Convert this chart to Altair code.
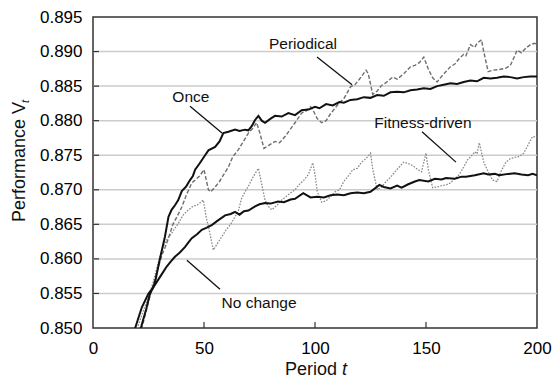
import altair as alt
import pandas as pd

# ---------------- data ----------------
once_t = [16, 19, 22, 25, 27, 28, 30, 32.4, 34, 35.4, 37, 38.4, 40, 42, 43.7, 45, 46, 48, 50.5, 52,
          55, 57, 58.7, 61, 64, 66, 68.5, 70, 71.5, 73, 74.5, 76, 77.5, 80, 82, 85, 88, 91, 94, 97,
          100, 102, 105, 108, 111, 113, 116, 119, 122, 125, 128, 131, 134, 137, 140, 143, 146, 149,
          152, 155, 158, 161, 164, 167, 170, 173, 176, 179, 182, 185, 188, 191, 194, 197, 200]
once_v = [0.8462, 0.8500, 0.8530, 0.8550, 0.8558, 0.8567, 0.8598, 0.8632, 0.8661, 0.8671, 0.8678,
          0.8685, 0.8698, 0.8705, 0.8714, 0.8720, 0.8729, 0.8738, 0.8750, 0.8757, 0.8762, 0.8770,
          0.8782, 0.8784, 0.8787, 0.8785, 0.8787, 0.8786, 0.8792, 0.8801, 0.8807, 0.8800, 0.8797,
          0.8803, 0.8807, 0.8806, 0.8811, 0.8808, 0.8815, 0.8816, 0.8820, 0.8818, 0.8824, 0.8822,
          0.8827, 0.8826, 0.8830, 0.8831, 0.8834, 0.8833, 0.8837, 0.8836, 0.8841, 0.8842, 0.8841,
          0.8844, 0.8845, 0.8847, 0.8846, 0.8850, 0.8852, 0.8854, 0.8853, 0.8856, 0.8858, 0.8857,
          0.8862, 0.8861, 0.8862, 0.8864, 0.8863, 0.8861, 0.8863, 0.8864, 0.8864]

nochange_t = [18, 20, 22, 24, 25.7, 27, 29.4, 31, 33.2, 35, 36.9, 39, 41.4, 43, 44.5, 47, 49, 51,
              53.5, 56, 59.5, 62, 64, 66, 68, 70, 73, 75, 77.5, 80, 83.3, 86, 89, 91, 94.7, 98, 101,
              104, 107, 110, 113, 116, 119, 122, 125, 129, 131, 134, 137, 139, 142, 145, 147, 151,
              154, 157, 159, 163, 166, 168, 172, 176, 178, 181, 183, 187, 190, 193, 196, 198, 200]
nochange_v = [0.8460, 0.8480, 0.8505, 0.8528, 0.8550, 0.8558, 0.8570, 0.8578, 0.8589, 0.8596,
              0.8603, 0.8609, 0.8617, 0.8624, 0.8630, 0.8636, 0.8642, 0.8645, 0.8649, 0.8655,
              0.8663, 0.8665, 0.8668, 0.8664, 0.8669, 0.8670, 0.8676, 0.8679, 0.8681, 0.8680,
              0.8683, 0.8682, 0.8686, 0.8687, 0.8695, 0.8689, 0.8690, 0.8689, 0.8692, 0.8693,
              0.8692, 0.8695, 0.8696, 0.8695, 0.8697, 0.8707, 0.8704, 0.8702, 0.8706, 0.8703,
              0.8708, 0.8712, 0.8714, 0.8712, 0.8716, 0.8715, 0.8717, 0.8716, 0.8719, 0.8719,
              0.8721, 0.8724, 0.8722, 0.8723, 0.8721, 0.8723, 0.8724, 0.8722, 0.8721, 0.8723,
              0.8721]

periodical_t = [16, 19, 22, 24, 26, 28, 29.5, 31, 32.5, 34, 36, 38, 40, 42, 44.5, 46, 48, 50, 52,
                53, 55, 57, 58.5, 61, 63, 65.5, 67, 70, 72, 73.7, 75, 77, 79, 82, 84, 86.5, 89, 91,
                94, 96, 98, 99, 101, 103, 105, 107, 109, 111, 113, 116, 118, 120, 123, 124, 126,
                128, 130, 132, 135, 137, 140, 143, 145, 147, 149, 151, 153, 155, 157, 159, 161,
                163, 165, 167, 168, 170, 172, 173, 175, 176, 178, 180, 183, 186, 188, 190, 191,
                193, 195, 197, 199, 200]
periodical_v = [0.8440, 0.8470, 0.8500, 0.8525, 0.8550, 0.8572, 0.8589, 0.8605, 0.8617, 0.8630,
                0.8650, 0.8662, 0.8675, 0.8692, 0.8710, 0.8714, 0.8720, 0.8729, 0.8700, 0.8697,
                0.8704, 0.8712, 0.8720, 0.8733, 0.8748, 0.8758, 0.8766, 0.8782, 0.8789, 0.8797,
                0.8784, 0.8760, 0.8764, 0.8770, 0.8768, 0.8777, 0.8788, 0.8797, 0.8811, 0.8814,
                0.8820, 0.8816, 0.8803, 0.8797, 0.8800, 0.8810, 0.8818, 0.8826, 0.8832, 0.8849,
                0.8852, 0.8860, 0.8873, 0.8868, 0.8838, 0.8843, 0.8851, 0.8855, 0.8863, 0.8860,
                0.8868, 0.8878, 0.8880, 0.8884, 0.8892, 0.8875, 0.8862, 0.8856, 0.8864, 0.8871,
                0.8878, 0.8882, 0.8890, 0.8896, 0.8894, 0.8910, 0.8906, 0.8912, 0.8917, 0.8900,
                0.8871, 0.8873, 0.8874, 0.8876, 0.8880, 0.8894, 0.8902, 0.8898, 0.8905, 0.8910,
                0.8912, 0.8910]

fitness_t = [15, 18, 20, 23, 25, 27, 29, 31, 33, 35.4, 37, 38.4, 40.5, 43, 45, 47, 49.7, 51, 52,
             54.2, 56, 58, 60, 62, 64, 65.5, 67, 69, 70, 72, 74.5, 76, 77.5, 79, 80.5, 83, 85, 88,
             91, 93, 95, 97, 99, 100, 101, 103, 105, 107, 109, 111, 113, 115, 117, 119, 121, 123,
             125, 126, 128, 130, 132, 134, 136, 138, 140, 142, 144, 146, 148, 150, 151, 153, 155,
             157, 159, 161, 163, 165, 167, 169, 170, 172, 173, 174, 176, 178, 180, 182, 184, 186,
             188, 190, 192, 194, 196, 198, 200]
fitness_v = [0.8445, 0.8475, 0.8500, 0.8528, 0.8545, 0.8565, 0.8590, 0.8613, 0.8627, 0.8637,
             0.8645, 0.8651, 0.8663, 0.8671, 0.8676, 0.8678, 0.8685, 0.8660, 0.8647, 0.8613,
             0.8622, 0.8632, 0.8642, 0.8650, 0.8661, 0.8670, 0.8688, 0.8700, 0.8705, 0.8718,
             0.8731, 0.8708, 0.8685, 0.8676, 0.8671, 0.8678, 0.8685, 0.8693, 0.8700, 0.8708,
             0.8714, 0.8722, 0.8739, 0.8722, 0.8698, 0.8682, 0.8684, 0.8690, 0.8697, 0.8700,
             0.8712, 0.8720, 0.8729, 0.8731, 0.8740, 0.8745, 0.8753, 0.8730, 0.8700, 0.8704,
             0.8712, 0.8718, 0.8726, 0.8733, 0.8740, 0.8738, 0.8735, 0.8730, 0.8726, 0.8753,
             0.8730, 0.8703, 0.8704, 0.8706, 0.8707, 0.8710, 0.8716, 0.8722, 0.8733, 0.8745,
             0.8747, 0.8755, 0.8752, 0.8768, 0.8740, 0.8726, 0.8714, 0.8712, 0.8728, 0.8740,
             0.8745, 0.8747, 0.8748, 0.8753, 0.8765, 0.8777, 0.8776]

# annotation labels (data coordinates) and leader lines
label_text = ["Periodical", "Once", "Fitness-driven", "No change"]
label_t = [94.6, 44.1, 148.6, 74.8]
label_v = [0.8911, 0.8834, 0.8797, 0.8536]
leader_t1 = [100.9, 43.7, 148.2, 42.3]
leader_v1 = [0.8892, 0.8821, 0.8784, 0.8598]
leader_t2 = [116.7, 58.1, 163.5, 57.2]
leader_v2 = [0.8852, 0.8782, 0.8740, 0.8556]

x_ticks = [0, 50, 100, 150, 200]
y_ticks = [0.850, 0.855, 0.860, 0.865, 0.870, 0.875, 0.880, 0.885, 0.890, 0.895]

# ---------------- chart ----------------
W, H = 444, 311
FONT = "Liberation Sans"

xs = alt.Scale(domain=[0, 200], nice=False, zero=False)
ys = alt.Scale(domain=[0.85, 0.895], nice=False, zero=False)

x_axis = alt.Axis(values=x_ticks, tickCount=len(x_ticks), format="d", title=None, grid=False,
                  ticks=False, tickSize=0, domain=False, labelPadding=12, labelFontSize=17,
                  labelFont=FONT, labelColor="#000", labelOverlap=False, labelFlush=False)
y_axis = alt.Axis(values=y_ticks, tickCount=len(y_ticks), format=".3f", title=None, grid=False,
                  ticks=False, tickSize=0, domain=False, labelPadding=11, labelFontSize=17,
                  labelFont=FONT, labelColor="#000", labelOverlap=False, labelFlush=False)


def series(t, v, **style):
    df = pd.DataFrame({"t": t, "v": v})
    return alt.Chart(df).mark_line(clip=True, **style).encode(
        x=alt.X("t:Q", scale=xs, axis=x_axis),
        y=alt.Y("v:Q", scale=ys, axis=y_axis),
    )


# horizontal grid lines drawn from the tick values
grid_df = pd.DataFrame({"v": y_ticks[1:-1]})
grid = alt.Chart(grid_df).mark_rule(color="#cccccc", strokeWidth=1.5).encode(
    y=alt.Y("v:Q", scale=ys), x=alt.value(0), x2=alt.value(W))

fit_line = series(fitness_t, fitness_v, color="#8a8a8a", strokeWidth=1.3, strokeDash=[1.6, 1.4])
per_line = series(periodical_t, periodical_v, color="#6e6e6e", strokeWidth=1.4, strokeDash=[4, 2])
noc_line = series(nochange_t, nochange_v, color="#111111", strokeWidth=2)
once_line = series(once_t, once_v, color="#111111", strokeWidth=2)

# inside tick marks
ytick = alt.Chart(grid_df).mark_rule(color="#333", strokeWidth=1.2).encode(
    y=alt.Y("v:Q", scale=ys), x=alt.value(0), x2=alt.value(6))
xtick_df = pd.DataFrame({"t": x_ticks[1:-1]})
xtick = alt.Chart(xtick_df).mark_rule(color="#333", strokeWidth=1.2).encode(
    x=alt.X("t:Q", scale=xs), y=alt.value(H), y2=alt.value(H - 6))

# annotations
lab_df = pd.DataFrame({"label": label_text, "t": label_t, "v": label_v})
labels = alt.Chart(lab_df).mark_text(font=FONT, fontSize=15.5, color="#111", align="center",
                                     baseline="middle").encode(
    x=alt.X("t:Q", scale=xs), y=alt.Y("v:Q", scale=ys), text="label:N")
lead_df = pd.DataFrame({"t1": leader_t1, "v1": leader_v1, "t2": leader_t2, "v2": leader_v2})
leaders = alt.Chart(lead_df).mark_rule(color="#111", strokeWidth=1.3).encode(
    x=alt.X("t1:Q", scale=xs), y=alt.Y("v1:Q", scale=ys), x2="t2:Q", y2="v2:Q")

# axis titles drawn as text so the variable can be italic / subscript
one = pd.DataFrame({"a": [0]})
xt1 = alt.Chart(one).mark_text(text="Period", font=FONT, fontSize=18, align="left",
                               baseline="alphabetic", color="#111").encode(
    x=alt.value(192), y=alt.value(358))
xt2 = alt.Chart(one).mark_text(text="t", font=FONT, fontSize=18, fontStyle="italic",
                               align="left", baseline="alphabetic", color="#111").encode(
    x=alt.value(249), y=alt.value(358))
yt1 = alt.Chart(one).mark_text(text="Performance V", font=FONT, fontSize=18, angle=270,
                               align="left", baseline="alphabetic", color="#111").encode(
    x=alt.value(-68), y=alt.value(205))
yt2 = alt.Chart(one).mark_text(text="t", font=FONT, fontSize=11, fontStyle="italic", angle=270,
                               align="left", baseline="alphabetic", color="#111").encode(
    x=alt.value(-64), y=alt.value(86))

chart = alt.layer(
    grid, fit_line, per_line, noc_line, once_line, ytick, xtick, leaders, labels,
    xt1, xt2, yt1, yt2
).properties(
    width=W, height=H,
    autosize=alt.AutoSizeParams(type="none"),
    padding={"left": 93, "top": 17, "right": 15, "bottom": 53},
).configure_view(
    stroke="#333", strokeWidth=1.5
)

chart.save("out.html", embed_options={"renderer": "svg", "actions": False})
